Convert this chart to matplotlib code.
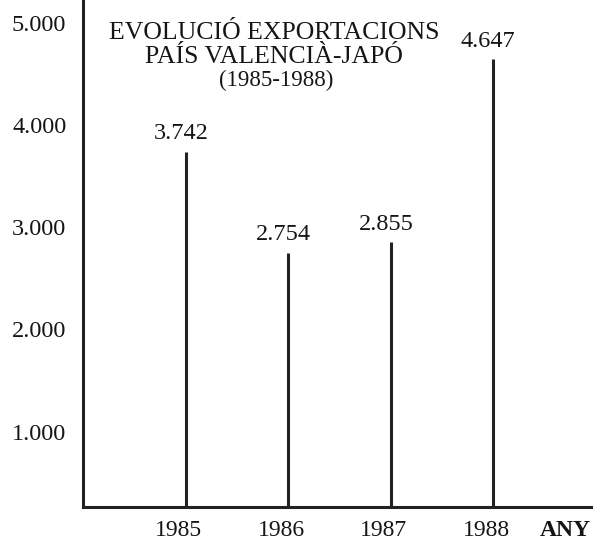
import matplotlib.pyplot as plt
from matplotlib.transforms import ScaledTranslation

# Exportacions País Valencià - Japó
years = [1985, 1986, 1987, 1988]
values = [3742, 2754, 2855, 4647]
value_labels = ['3.742', '2.754', '2.855', '4.647']
y_ticks = [1000, 2000, 3000, 4000, 5000]
y_tick_labels = ['1.000', '2.000', '3.000', '4.000', '5.000']

plt.rcParams['font.family'] = ['Liberation Serif', 'DejaVu Serif']
ink = '#151515'

fig = plt.figure(figsize=(5.93, 5.40), dpi=100)
ax = fig.add_axes([83 / 593, 33 / 540, 1 - 83 / 593, 507 / 540])

ax.vlines(years, 260, values, color='#222222', linewidth=2.2)

for x, v, lab in zip(years, values, value_labels):
    ax.annotate(lab, (x, v), xytext=(-3.5, 13), textcoords='offset points',
                ha='center', va='center', fontsize=17.5, color=ink)

ax.set_xlim(1983.995, 1988.976)
ax.set_ylim(260, 5230)
ax.set_xticks(years)
ax.set_xticklabels([str(y) for y in years], fontsize=17)
ax.set_yticks(y_ticks)
ax.set_yticklabels(y_tick_labels, fontsize=17.5)
ax.tick_params(length=0, colors=ink)
ax.tick_params(axis='x', pad=9)
ax.tick_params(axis='y', pad=12)

# year labels in the original sit a little left of their bars
shift = ScaledTranslation(-7 / 100, 0, fig.dpi_scale_trans)
for lab in ax.get_xticklabels():
    lab.set_transform(lab.get_transform() + shift)

for side in ['top', 'right']:
    ax.spines[side].set_visible(False)
for side in ['left', 'bottom']:
    ax.spines[side].set_linewidth(2.2)
    ax.spines[side].set_color('#222222')

fig.text(565 / 593, 1 - 530 / 540, 'ANY', ha='center', va='center',
         fontsize=17, fontweight='bold', color=ink)

fig.text(274 / 593, 1 - 33 / 540, 'EVOLUCIÓ EXPORTACIONS', ha='center',
         va='center', fontsize=18.5, color=ink)
fig.text(274 / 593, 1 - 57 / 540, 'PAÍS VALENCIÀ-JAPÓ', ha='center',
         va='center', fontsize=18.5, color=ink)
fig.text(276 / 593, 1 - 80 / 540, '(1985-1988)', ha='center',
         va='center', fontsize=16.5, color=ink)

plt.savefig('out.png', dpi=100)
